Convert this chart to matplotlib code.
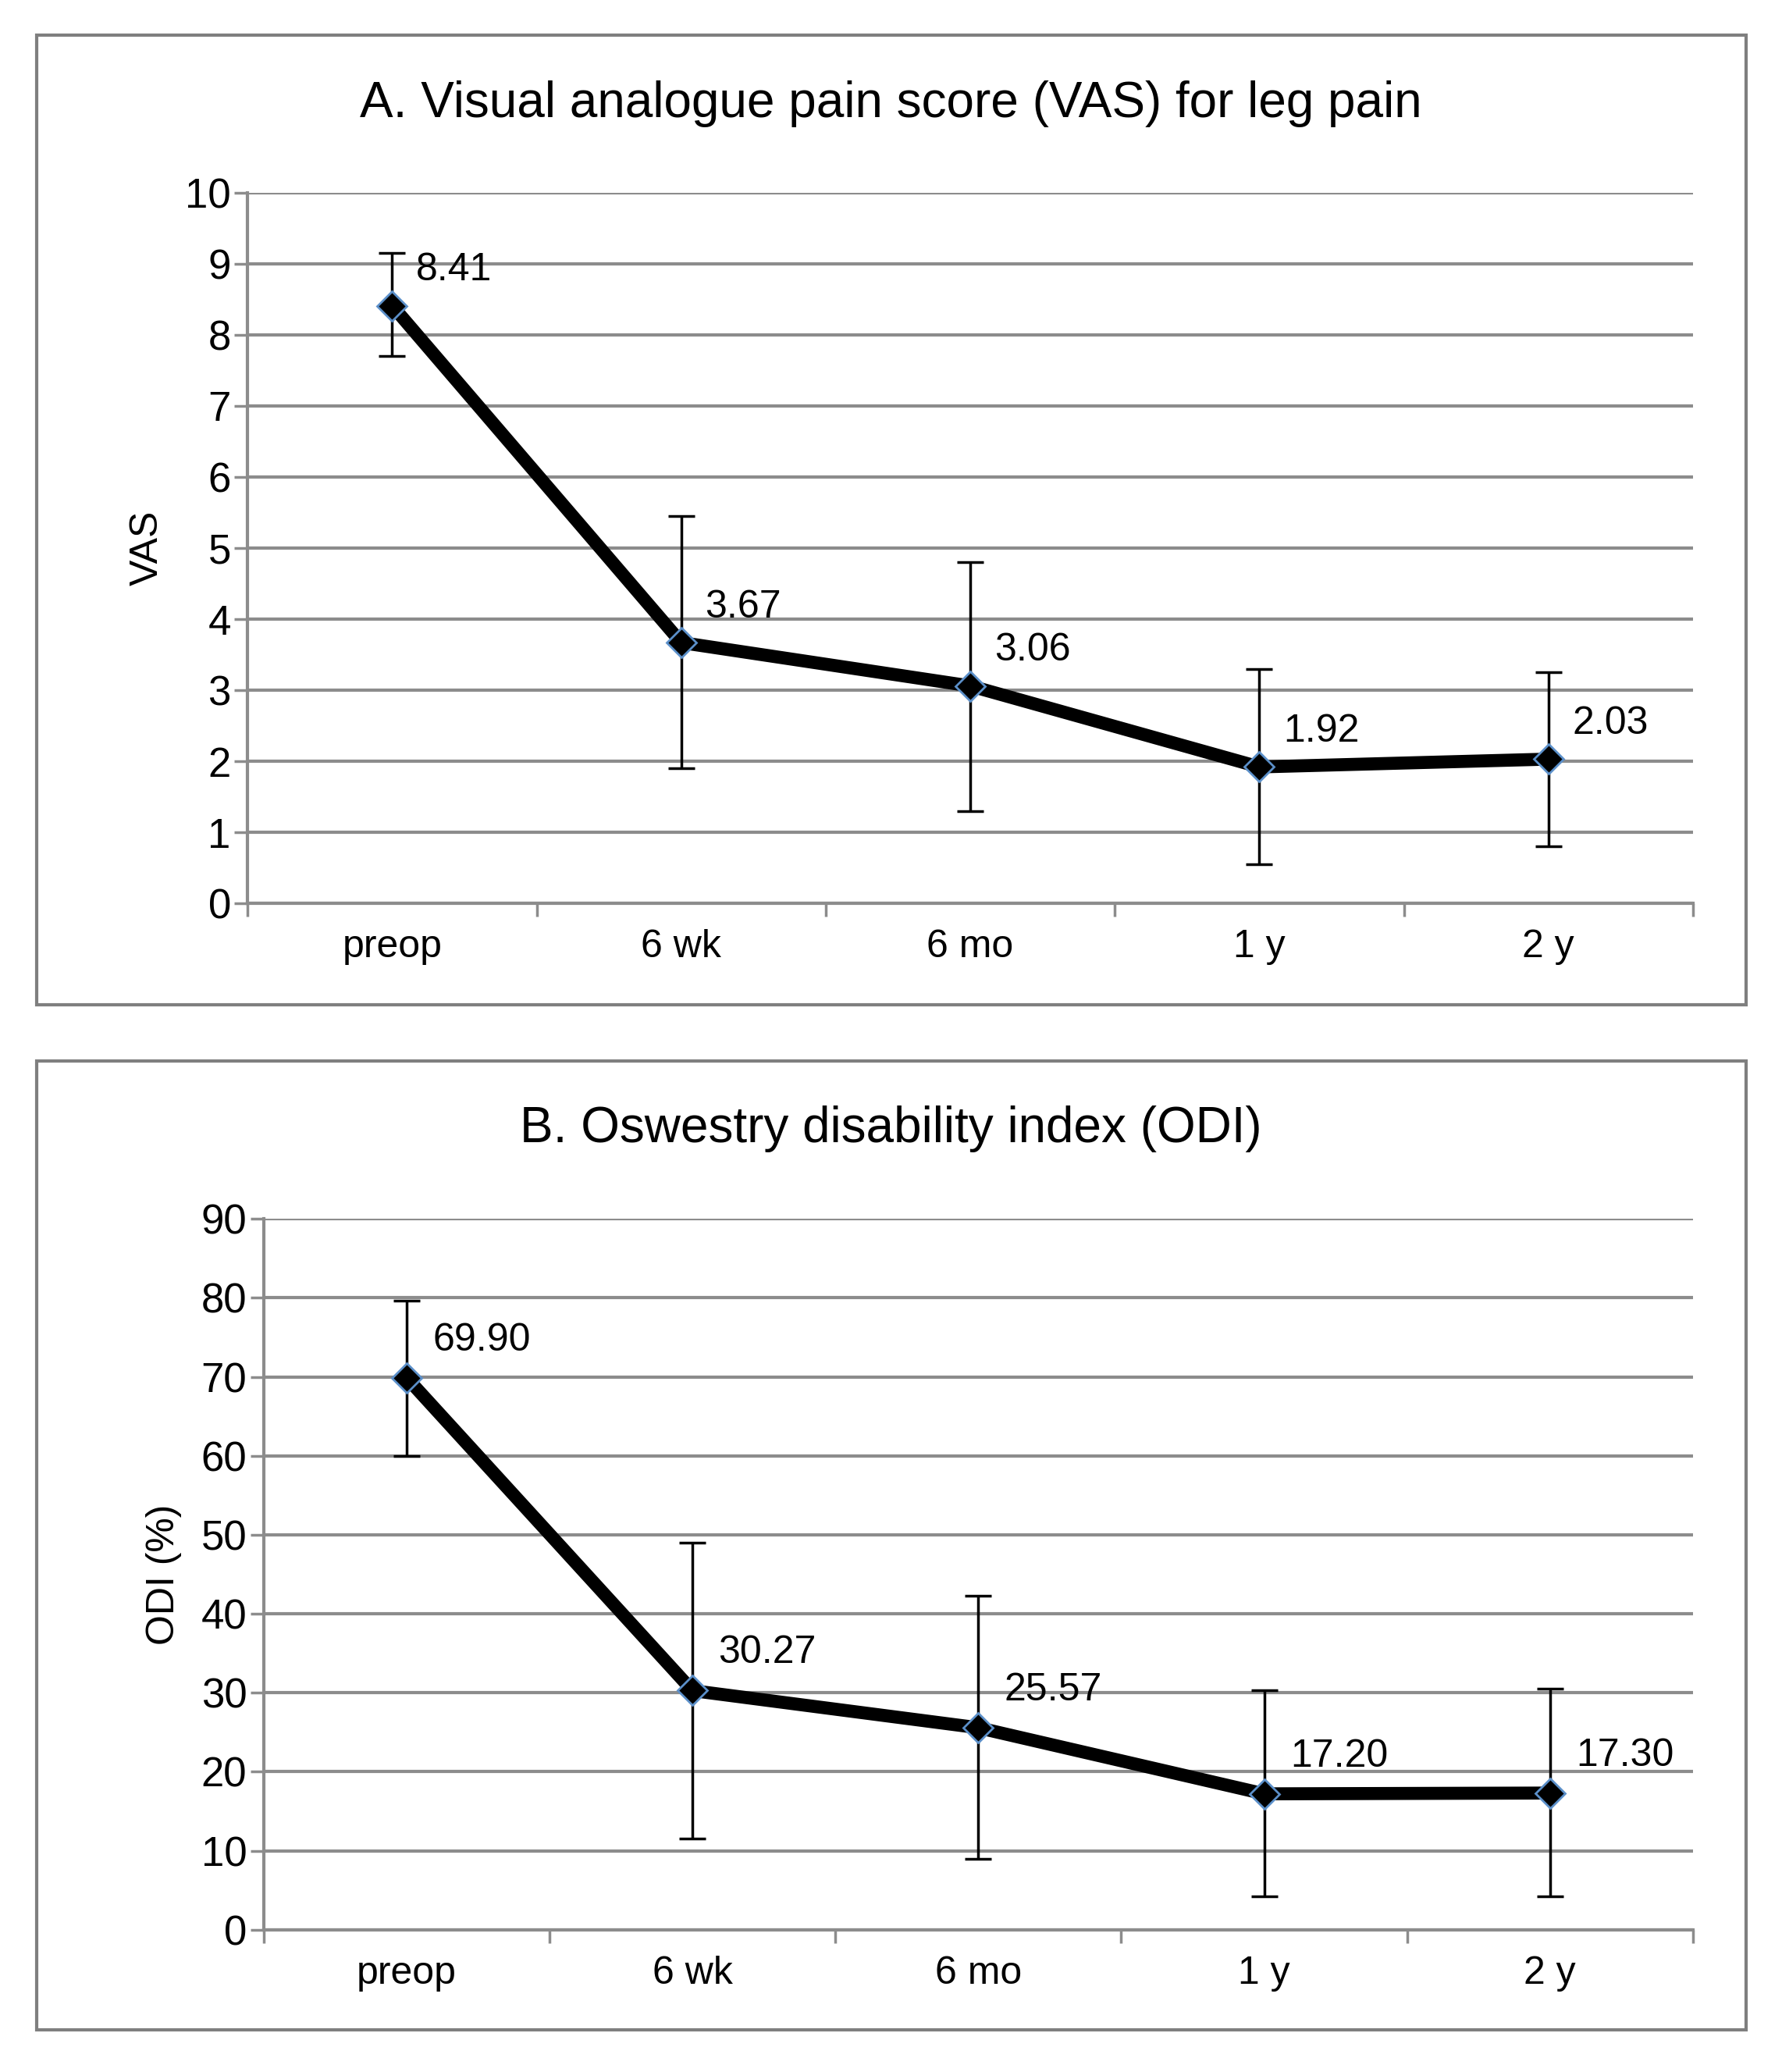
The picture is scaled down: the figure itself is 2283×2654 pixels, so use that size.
import matplotlib.pyplot as plt
from matplotlib.patches import Rectangle

plt.rcParams['font.family'] = ['Liberation Sans', 'DejaVu Sans']

cats = ["preop", "6 wk", "6 mo", "1 y", "2 y"]
vas = [8.41, 3.67, 3.06, 1.92, 2.03]
vas_lo = [7.7, 1.9, 1.3, 0.55, 0.8]
vas_hi = [9.15, 5.45, 4.8, 3.3, 3.25]
odi = [69.90, 30.27, 25.57, 17.20, 17.30]
odi_lo = [60, 11.5, 9, 4.2, 4.2]
odi_hi = [79.7, 49, 42.3, 30.3, 30.5]

fig = plt.figure(figsize=(22.83, 26.54), dpi=100)
fig.patch.set_facecolor("white")
for b, t in [(0.515, 0.983), (0.0204, 0.488)]:
    fig.patches.append(Rectangle((0.0207, b), 0.959, t - b, transform=fig.transFigure,
                                 fill=False, edgecolor="#7f7f7f", linewidth=3))


def panel(rect, vals, lo, hi, ymax, step, ylabel, title, title_y, dx, dy, fmt):
    ax = fig.add_axes(rect)
    x = [i + 0.5 for i in range(len(cats))]
    err = [[v - l for v, l in zip(vals, lo)], [h - v for v, h in zip(vals, hi)]]
    ax.errorbar(x, vals, yerr=err, fmt="none", ecolor="black", elinewidth=2.5,
                capsize=12, capthick=2.5, zorder=3)
    ax.plot(x, vals, color="black", linewidth=12, zorder=4)
    ax.plot(x, vals, "D", color="black", markersize=19, markeredgecolor="#5b8fc9",
            markeredgewidth=2, zorder=5)
    for xi, v in zip(x, vals):
        ax.annotate(fmt.format(v), (xi, v), xytext=(dx, dy), textcoords="offset points",
                    fontsize=36, ha="left", va="bottom")
    ax.set_xlim(0, 5)
    ax.set_ylim(0, ymax)
    ax.set_yticks(range(0, ymax + 1, step))
    ax.yaxis.grid(True, color="#8c8c8c", linewidth=3)
    ax.set_axisbelow(True)
    ax.set_xticks(x)
    ax.set_xticklabels(cats)
    ax.set_xticks(range(6), minor=True)
    ax.tick_params(axis="x", which="major", length=0, labelsize=36, pad=24)
    ax.tick_params(axis="x", which="minor", length=12, width=2.5, color="#8c8c8c")
    ax.tick_params(axis="y", labelsize=38, length=12, width=2.5, color="#8c8c8c")
    for s in ["top", "right"]:
        ax.spines[s].set_visible(False)
    for s in ["left", "bottom"]:
        ax.spines[s].set_color("#8c8c8c")
        ax.spines[s].set_linewidth(3)
    ax.set_ylabel(ylabel, fontsize=36, labelpad=18)
    fig.text(0.5, title_y, title, fontsize=46, ha="center", va="center")
    return ax


panel([0.139, 0.564, 0.811, 0.343], vas, vas_lo, vas_hi, 10, 1, "VAS",
      "A. Visual analogue pain score (VAS) for leg pain", 0.95, 22, 16, "{:.2f}")
panel([0.148, 0.0687, 0.802, 0.343], odi, odi_lo, odi_hi, 90, 10, "ODI (%)",
      "B. Oswestry disability index (ODI)", 0.455, 24, 18, "{:.2f}")

fig.savefig("out.png", dpi=100, facecolor="white")
